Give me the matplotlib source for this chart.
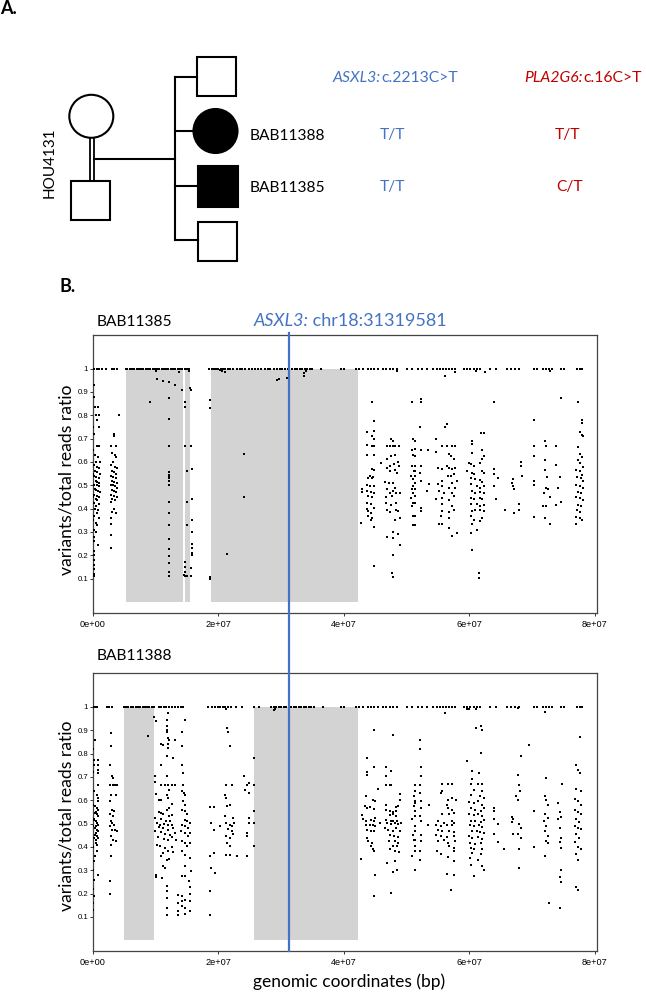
"""
Pedigree of family HOU4131 and B-allele ratio plots along chr18
for BAB11385 and BAB11388.
"""
import matplotlib
matplotlib.use("Agg")
import matplotlib.pyplot as plt
import matplotlib.transforms as mtrans
from matplotlib.lines import Line2D
from matplotlib.patches import Ellipse, Rectangle

BLUE = "#4472C4"
RED = "#C00000"
GRAY = "#D3D3D3"
LABEL_FONT = "Lato"
TICK_FONT = "Liberation Sans"

ASXL3_POS = 31319581
XTICKS = [0, 2e7, 4e7, 6e7, 8e7]
XTICK_LABELS = ["0e+00", "2e+07", "4e+07", "6e+07", "8e+07"]
YTICKS = [0.1, 0.2, 0.3, 0.4, 0.5, 0.6, 0.7, 0.8, 0.9, 1.0]
YTICK_LABELS = ["0.1", "0.2", "0.3", "0.4", "0.5", "0.6", "0.7", "0.8", "0.9", "1"]

# shaded regions (Mb)
bab11385_roh_start = [5.2, 14.7, 18.8]
bab11385_roh_end = [14.3, 15.4, 42.2]
bab11388_roh_start = [5.0, 25.6]
bab11388_roh_end = [9.8, 42.2]

# variant positions (Mb) with ratio == 1
bab11385_hom = [
    0.0, 0.2, 0.6, 0.9, 1.5, 2.1, 3.0, 3.4, 3.8,
    5.2, 5.5, 5.9, 6.2, 6.6, 7.0, 7.3, 7.7, 8.0, 8.4, 8.8, 9.1, 9.5, 9.9,
    10.2, 10.6, 11.0, 11.3, 11.7, 12.0, 12.4, 12.8, 13.1, 13.5, 13.9, 14.2,
    14.6, 15.0, 15.3,
    18.5, 18.9, 19.3, 19.6, 20.0, 20.4, 20.7, 21.1, 21.5, 21.8, 22.3, 22.9,
    23.4, 23.8, 24.3, 24.9, 25.4, 25.8, 26.3, 26.8, 27.4, 27.9, 28.3, 28.8,
    29.3, 29.8, 30.2, 30.6, 31.1, 31.7, 32.2, 32.6, 33.0, 33.4, 33.8, 34.2,
    34.6, 35.0,
    36.4, 39.6, 40.0, 42.0, 42.5, 43.0, 43.8, 44.3, 44.8, 45.4, 46.2, 46.7,
    47.3, 47.9, 48.5, 50.0, 50.8, 51.9, 52.5, 53.2, 54.3, 54.8, 55.3, 55.8,
    56.3, 56.8, 57.3, 57.8, 59.1, 59.6, 60.2, 60.7, 61.2, 61.7, 63.3, 64.2,
    66.1, 66.6, 67.3, 68.0, 70.3, 70.8, 71.8, 72.3, 72.8, 73.2, 74.6, 75.1,
    77.2, 77.6, 78.0,
]
bab11388_hom = [
    0.0, 0.3, 0.6, 2.2, 2.6, 3.0,
    4.9, 5.3, 5.6, 6.0, 6.3, 6.8, 7.2, 7.5, 7.9, 8.3, 8.6, 9.0, 9.4, 9.8,
    10.5, 10.9, 11.3, 11.7, 12.1, 12.6, 13.0, 13.6, 14.0, 14.4,
    18.4, 18.9, 19.4, 19.9, 20.3, 20.7, 21.1, 21.5, 22.0, 22.8, 23.7, 25.7,
    26.4,
    28.4, 28.8, 29.2, 29.6, 30.0, 30.4, 30.8, 31.2, 31.6, 32.0, 32.4, 32.8,
    33.2, 33.6, 34.0, 34.4, 34.8, 35.2,
    36.7, 39.5, 40.0, 42.0, 42.5, 43.0, 43.8, 44.3, 44.8, 45.4, 46.2, 46.7,
    47.3, 47.9, 48.5, 50.0, 50.8, 51.9, 52.5, 53.2, 54.3, 54.8, 55.3, 55.8,
    56.3, 56.8, 57.3, 57.8, 59.1, 59.6, 60.2, 60.7, 61.2, 61.7, 63.3, 64.2,
    66.1, 66.6, 67.3, 68.0, 70.3, 70.8, 71.8, 72.3, 72.8, 73.2, 74.6, 75.1,
    77.2, 77.6, 78.0,
]

# other variants: (position Mb, variant/total reads)
bab11385_pts = [
    (0.1, .93), (0.1, .88), (0.3, .835), (0.8, .835), (0.5, .80), (1.0, .80),
    (0.7, .78), (0.9, .75), (0.2, .72), (0.6, .67), (1.0, .67), (0.3, .63),
    (0.8, .62), (0.4, .60), (1.1, .60), (0.2, .585), (0.6, .58), (0.9, .575),
    (0.3, .56), (0.7, .555), (1.1, .55), (0.2, .54), (0.5, .535), (0.9, .53),
    (0.4, .52), (0.7, .515), (1.0, .51), (0.2, .50), (0.6, .50), (0.9, .495),
    (0.3, .485), (0.5, .48), (0.8, .475), (1.1, .47), (0.2, .46), (0.6, .455),
    (0.9, .45), (0.4, .44), (0.7, .435), (0.2, .425), (1.0, .42), (0.5, .41),
    (0.3, .40), (0.8, .395), (0.6, .38), (0.2, .37), (0.9, .36), (0.4, .34),
    (0.7, .33), (0.1, .31), (0.5, .30), (0.1, .28), (0.8, .245), (0.1, .22),
    (0.1, .20), (0.1, .18), (0.1, .16), (0.1, .14), (0.1, .12), (0.1, .11),
    (0.15, .26), (0.05, .35), (0.05, .45), (0.05, .55), (0.05, .65), (0.05, .75),
    (4.2, .80), (3.3, .72), (3.4, .71), (2.8, .67), (3.6, .67), (3.0, .64),
    (3.5, .63), (3.7, .62), (3.2, .60), (2.9, .585), (3.5, .58), (3.8, .575),
    (3.1, .56), (3.4, .555), (3.7, .55), (2.8, .54), (3.2, .535), (3.6, .53),
    (3.0, .52), (3.4, .515), (3.9, .51), (2.8, .50), (3.2, .50), (3.5, .495),
    (3.8, .49), (3.0, .48), (3.3, .475), (3.6, .47), (2.9, .46), (3.4, .455),
    (3.9, .45), (3.1, .44), (3.5, .435), (2.8, .43), (3.3, .40), (3.0, .385),
    (3.6, .38), (2.8, .36), (2.9, .335), (2.8, .285), (2.8, .23),
    (10.2, .954), (10.0, .99), (11.2, .948), (12.1, .943), (12.1, .873),
    (13.0, .93), (14.2, .91), (9.1, .856), (12.1, .784), (12.1, .667),
    (12.1, .555), (12.1, .545), (12.1, .54), (12.1, .53), (12.1, .52),
    (12.1, .50), (12.1, .43), (12.1, .38), (12.1, .33), (12.1, .27),
    (12.1, .225), (12.1, .195), (12.1, .165), (12.1, .13), (12.1, .11),
    (14.6, .856), (14.6, .835), (14.6, .667), (15.0, .56), (15.0, .43),
    (15.0, .33), (14.6, .17), (14.6, .15), (14.6, .13), (14.6, .11),
    (14.8, .11), (15.0, .11), (14.5, .115),
    (15.7, .91), (15.5, .915), (15.7, .667), (15.8, .57), (15.8, .44),
    (15.8, .35), (15.8, .30), (15.8, .25), (15.8, .23), (15.8, .21),
    (15.8, .20), (15.7, .145), (15.7, .11), (13.7, .985), (15.3, .99),
    (18.6, .866), (18.6, .832), (24.1, .633), (24.1, .449), (21.3, .205),
    (18.6, .108), (18.6, .10), (20.5, .99), (21.0, .985), (29.4, .95),
    (29.6, .955), (31.0, .96), (33.6, .97), (33.6, .98), (34.0, .99), (20.2, .995),
    (44.45, .856), (44.8, .777), (43.65, .73), (44.8, .734), (44.45, .712),
    (44.8, .70), (43.65, .672), (44.45, .667), (44.8, .667), (43.65, .63),
    (44.8, .63), (44.45, .57), (44.8, .566), (44.2, .54), (44.7, .537),
    (43.9, .533), (44.45, .53), (43.65, .50), (44.2, .495), (44.8, .497),
    (42.85, .483), (43.65, .475), (44.3, .47), (44.8, .468), (42.85, .47),
    (43.9, .455), (44.45, .448), (43.65, .425), (44.35, .418), (43.65, .397),
    (43.9, .39), (44.3, .383), (44.8, .404), (43.9, .368), (44.45, .36),
    (44.35, .353), (42.7, .34), (44.8, .322), (44.8, .152),
    (45.9, .595), (46.9, .575), (47.5, .70), (47.8, .69), (46.9, .667),
    (47.4, .667), (47.8, .667), (48.2, .667), (48.85, .667), (47.5, .627),
    (48.2, .63), (46.9, .612), (48.7, .60), (47.3, .583), (48.0, .59),
    (48.85, .583), (47.4, .561), (48.2, .565), (48.5, .551), (46.6, .514),
    (47.2, .51), (47.9, .511), (48.2, .49), (46.9, .483), (47.8, .475),
    (47.3, .468), (48.3, .465), (48.96, .468), (46.7, .45), (47.7, .454),
    (46.8, .425), (47.5, .414), (48.4, .425), (46.9, .396), (48.3, .393),
    (48.7, .389), (47.4, .385), (48.2, .353), (48.96, .36), (47.8, .30),
    (46.9, .277), (47.9, .274), (48.7, .29), (48.96, .245), (47.8, .202),
    (47.7, .123), (47.8, .106),
    (50.8, .856), (51.1, .70), (50.8, .65), (51.1, .63), (50.8, .584),
    (51.2, .561), (50.7, .54), (51.1, .526), (51.1, .497), (50.8, .483),
    (51.1, .469), (50.7, .447), (51.1, .425), (50.8, .41), (51.1, .37),
    (51.1, .33), (52.3, .87), (52.3, .856), (52.15, .75), (51.4, .69),
    (51.4, .655), (51.4, .625), (51.4, .582), (51.4, .56), (51.4, .54),
    (51.4, .51), (51.4, .482), (51.4, .455), (51.4, .425), (51.4, .37),
    (51.4, .33), (52.3, .65), (52.3, .582), (52.15, .554), (52.3, .518),
    (52.3, .404), (52.3, .39), (53.5, .65), (53.6, .504), (53.2, .475),
    (54.65, .698), (56.1, .748), (56.4, .763), (55.7, .667), (56.4, .667),
    (57.2, .667), (57.7, .667), (54.65, .641), (56.7, .633), (57.1, .626),
    (57.6, .612), (56.4, .583), (56.7, .576), (55.6, .569), (54.97, .572),
    (57.3, .569), (57.7, .576), (56.6, .54), (57.1, .54), (57.6, .547),
    (55.7, .518), (57.3, .511), (58.0, .518), (54.97, .504), (55.6, .497),
    (56.7, .49), (57.7, .49), (55.2, .475), (56.0, .468), (57.2, .468),
    (54.65, .44), (55.6, .447), (56.7, .437), (57.5, .454), (55.7, .418),
    (57.2, .411), (55.6, .389), (56.7, .385), (57.6, .393), (55.5, .368),
    (56.7, .36), (55.2, .332), (55.7, .332), (56.7, .317), (58.0, .296),
    (57.2, .281),
    (60.4, .69), (60.4, .676), (61.9, .725), (62.3, .725), (60.4, .64),
    (62.0, .652), (62.3, .626), (59.9, .597), (60.3, .59), (60.7, .583),
    (61.7, .597), (62.0, .612), (59.7, .561), (60.4, .554), (60.8, .547),
    (62.0, .561), (62.3, .554), (60.3, .533), (60.9, .526), (61.7, .523),
    (62.0, .514), (60.3, .504), (61.2, .497), (61.7, .49), (62.3, .497),
    (60.4, .475), (60.9, .468), (61.7, .471), (62.3, .468), (60.3, .447),
    (60.8, .44), (61.7, .447), (62.1, .44), (60.3, .418), (61.2, .418),
    (61.7, .411), (62.3, .414), (60.5, .389), (61.0, .396), (61.7, .396),
    (62.3, .389), (60.3, .368), (60.7, .353), (62.0, .36), (60.4, .332),
    (61.7, .346), (60.3, .296), (61.2, .31), (60.5, .224), (61.6, .126),
    (61.6, .102),
    (63.9, .856), (63.9, .569), (63.9, .547), (64.6, .533), (63.9, .497),
    (64.2, .443),
    (68.3, .60), (68.3, .583), (68.4, .54), (67.0, .526), (66.9, .511),
    (67.0, .497), (67.1, .486), (67.9, .418), (67.9, .396), (65.7, .396),
    (67.1, .382),
    (70.4, .78), (70.4, .667), (70.4, .626), (70.4, .52), (70.4, .50),
    (70.4, .363), (72.1, .69), (72.3, .67), (72.1, .61), (72.1, .565),
    (72.4, .535), (72.3, .49), (72.6, .486), (72.0, .465), (72.9, .45),
    (71.7, .41), (72.3, .41), (72.1, .36), (72.9, .335), (73.9, .667),
    (73.9, .585), (74.5, .535), (74.2, .49), (73.9, .415), (74.6, .43),
    (74.7, .876),
    (77.4, .857), (78.0, .78), (78.0, .765), (77.6, .73), (78.0, .715),
    (78.2, .71), (77.4, .665), (77.7, .635), (78.0, .62), (77.4, .61),
    (77.7, .595), (78.2, .58), (77.1, .565), (77.7, .56), (78.0, .545),
    (77.2, .535), (77.8, .53), (78.2, .52), (77.1, .50), (77.7, .495),
    (78.2, .49), (77.4, .47), (77.9, .465), (77.1, .45), (77.6, .445),
    (78.1, .435), (77.4, .415), (77.8, .41), (77.2, .395), (77.7, .385),
    (77.1, .365), (77.6, .36), (78.0, .35), (77.1, .335),
    (56.2, .97), (57.8, .985), (61.1, .99), (72.9, .99), (48.5, .99),
    (62.5, .985),
]

bab11388_pts = [
    (0.3, .86), (0.2, .774), (0.75, .774), (0.2, .753), (0.75, .753),
    (0.75, .731), (0.75, .717), (0.75, .667), (0.6, .624), (0.75, .61),
    (0.75, .596), (0.3, .574), (0.6, .567), (0.75, .56), (0.3, .546),
    (0.6, .539), (0.75, .531), (0.2, .517), (0.4, .51), (0.65, .503),
    (0.85, .496), (0.3, .481), (0.6, .474), (0.75, .467), (0.3, .453),
    (0.6, .446), (0.75, .439), (0.4, .417), (0.65, .41), (0.6, .381),
    (0.3, .36), (0.75, .281),
    (0.05, .82), (0.05, .72), (0.1, .64), (0.05, .58), (0.1, .52), (0.05, .49),
    (0.1, .44), (0.05, .40), (0.1, .34), (0.05, .30), (0.1, .26), (0.05, .22),
    (0.1, .19), (0.05, .16), (0.05, .13), (0.45, .55), (0.5, .49), (0.45, .46),
    (0.55, .43),
    (2.9, .889), (2.9, .831), (2.7, .75), (3.1, .703), (3.25, .696),
    (2.7, .667), (3.25, .667), (3.5, .667), (3.8, .667), (2.9, .624),
    (3.6, .624), (2.7, .596), (3.0, .56), (3.4, .553), (2.7, .539),
    (3.25, .531), (2.9, .51), (3.1, .503), (3.4, .496), (2.7, .489),
    (3.0, .474), (3.5, .474), (3.8, .467), (2.9, .446), (3.25, .431),
    (3.6, .424), (2.9, .41), (2.9, .36), (2.7, .253), (2.7, .199),
    (8.8, .875),
    (9.8, .956), (10.0, .941), (10.85, .839), (11.1, .836), (11.75, .946),
    (12.0, .974), (11.75, .917), (11.75, .903), (11.75, .893), (11.9, .867),
    (11.9, .839), (11.9, .824), (12.2, .86), (11.75, .791), (12.8, .781),
    (13.0, .86), (10.85, .753), (11.75, .703), (9.9, .703), (9.9, .679),
    (10.85, .667), (11.5, .667), (11.9, .667), (12.55, .667), (13.0, .667),
    (12.1, .646), (10.0, .627), (10.5, .599), (10.85, .599), (11.75, .621),
    (11.9, .61), (12.66, .584), (12.1, .567), (11.75, .56), (10.5, .55),
    (10.85, .546), (11.2, .541), (12.1, .531), (12.66, .536), (9.9, .524),
    (10.85, .521), (11.6, .513), (12.3, .51), (10.2, .503), (10.7, .496),
    (11.4, .499), (11.9, .493), (12.66, .496), (10.5, .484), (11.1, .479),
    (12.0, .474), (12.8, .481), (9.9, .467), (10.85, .464), (11.5, .456),
    (12.35, .453), (13.0, .46), (10.4, .441), (11.4, .436), (11.9, .43),
    (12.66, .441), (13.2, .431), (10.2, .41), (10.7, .403), (11.5, .396),
    (12.55, .399), (11.1, .374), (11.9, .381), (12.8, .379), (10.85, .36),
    (11.75, .346), (12.1, .35), (11.1, .317), (11.5, .31), (10.0, .281),
    (10.0, .27), (10.95, .267), (11.75, .231), (11.75, .21), (11.75, .179),
    (11.75, .139), (11.75, .11),
    (14.6, .946), (14.25, .893), (14.25, .831), (14.25, .753), (14.4, .717),
    (14.4, .667), (14.25, .639), (14.45, .631), (14.7, .624), (14.4, .596),
    (14.7, .581), (14.25, .56), (14.7, .553), (14.95, .539), (14.7, .517),
    (15.0, .51), (14.15, .496), (14.7, .489), (15.1, .481), (15.5, .503),
    (14.0, .467), (14.7, .46), (15.5, .46), (15.1, .446), (14.25, .424),
    (14.7, .417), (15.5, .417), (14.95, .403), (14.25, .381), (14.7, .367),
    (15.5, .353), (14.6, .317), (15.6, .296), (14.25, .274), (14.7, .274),
    (15.3, .253), (15.5, .227), (14.25, .189), (14.25, .167), (14.25, .146),
    (14.7, .174), (14.7, .139), (14.7, .113), (15.5, .199), (15.5, .167),
    (15.5, .124), (13.6, .193), (13.6, .16), (13.6, .124), (13.6, .107),
    (18.7, .571), (19.3, .571), (18.8, .503), (19.3, .474), (18.7, .36),
    (19.3, .374), (18.8, .31), (19.5, .289), (18.7, .21), (18.7, .107),
    (20.2, .489), (21.1, .624), (21.2, .61), (21.2, .667), (22.1, .667),
    (21.3, .574), (21.8, .581), (21.1, .534), (22.3, .524), (21.2, .503),
    (21.9, .496), (22.1, .489), (22.5, .503), (21.6, .477), (22.1, .467),
    (22.4, .457), (21.2, .446), (21.9, .439), (21.3, .417), (21.9, .403),
    (21.2, .367), (21.9, .364), (22.9, .363), (21.4, .91), (21.6, .891),
    (21.9, .834), (24.1, .703), (24.5, .667), (24.8, .674), (24.3, .646),
    (24.8, .631), (24.8, .524), (24.9, .503), (24.5, .46), (24.6, .446),
    (24.5, .363), (25.7, .779), (25.7, .667), (25.7, .553), (25.7, .503),
    (25.7, .403), (29.0, .99), (21.2, .99), (28.9, .985),
    (44.87, .903), (43.65, .781), (43.65, .721), (43.65, .71), (44.8, .741),
    (45.5, .649), (43.54, .617), (44.7, .603), (44.97, .596), (43.4, .574),
    (43.65, .567), (44.2, .57), (44.8, .564), (42.85, .536), (43.1, .521),
    (43.54, .513), (44.3, .517), (44.8, .51), (44.97, .524), (43.54, .496),
    (44.2, .493), (44.7, .496), (45.0, .489), (45.8, .503), (43.65, .474),
    (44.3, .467), (44.8, .47), (43.65, .439), (43.9, .424), (44.45, .417),
    (44.3, .403), (44.6, .389), (44.8, .381), (42.74, .35), (44.97, .281),
    (44.87, .189),
    (47.8, .879), (46.73, .741), (47.47, .727), (46.73, .703), (46.73, .667),
    (47.37, .667), (47.6, .667), (48.96, .627), (48.96, .599), (48.4, .57),
    (48.7, .574), (46.73, .581), (46.73, .56), (47.37, .556), (47.9, .55),
    (48.4, .553), (47.37, .536), (47.8, .539), (48.4, .531), (46.8, .517),
    (47.47, .513), (47.9, .51), (48.5, .513), (46.94, .503), (47.47, .499),
    (48.2, .503), (48.7, .499), (49.07, .503), (46.6, .479), (47.1, .474),
    (47.9, .47), (48.4, .479), (48.96, .467), (47.37, .453), (48.0, .446),
    (48.7, .441), (47.26, .427), (48.2, .424), (48.7, .417), (47.8, .403),
    (48.5, .403), (47.37, .389), (48.2, .381), (48.85, .379), (46.94, .331),
    (48.2, .339), (48.5, .303), (47.8, .293), (47.6, .203),
    (51.35, .667), (51.35, .639), (51.2, .617), (51.35, .596), (51.2, .574),
    (51.35, .553), (51.35, .531), (50.95, .52), (51.35, .467), (51.05, .453),
    (51.2, .431), (51.35, .403), (51.35, .381), (50.8, .36), (51.35, .303),
    (52.15, .86), (52.15, .821), (52.3, .741), (52.3, .703), (52.15, .667),
    (52.15, .631), (52.3, .596), (52.3, .567), (52.15, .531), (52.3, .51),
    (52.3, .453), (52.3, .424), (52.15, .381), (52.15, .346), (53.6, .581),
    (53.4, .496), (51.4, .59), (51.4, .49), (51.4, .43),
    (55.7, .67), (56.6, .67), (57.3, .67), (55.7, .639), (55.5, .631),
    (57.3, .61), (56.6, .599), (56.4, .581), (57.85, .599), (56.6, .567),
    (57.3, .56), (55.7, .541), (56.7, .539), (57.6, .546), (55.07, .51),
    (56.0, .503), (57.3, .51), (57.6, .503), (54.65, .493), (55.5, .489),
    (56.4, .493), (57.2, .496), (54.97, .474), (55.6, .467), (56.7, .47),
    (57.5, .464), (54.65, .453), (55.5, .446), (56.5, .441), (57.6, .446),
    (55.07, .424), (56.0, .431), (56.6, .417), (57.7, .427), (56.7, .403),
    (57.5, .396), (54.8, .381), (55.5, .37), (57.6, .381), (56.6, .356),
    (57.6, .339), (56.4, .284), (57.6, .279), (57.1, .217),
    (59.7, .77), (60.4, .727), (61.6, .717), (61.9, .803), (61.8, .917),
    (62.0, .903), (60.5, .693), (60.3, .67), (61.35, .67), (62.0, .67),
    (60.8, .646), (62.0, .639), (60.3, .624), (61.7, .617), (62.3, .61),
    (59.9, .593), (60.7, .589), (61.45, .596), (62.0, .581), (60.3, .567),
    (61.0, .56), (61.9, .556), (62.3, .567), (60.0, .539), (60.7, .536),
    (61.45, .541), (62.0, .531), (60.3, .513), (61.0, .51), (61.9, .507),
    (62.3, .517), (60.1, .496), (60.8, .489), (61.6, .493), (62.1, .484),
    (60.4, .467), (61.2, .47), (61.7, .464), (62.3, .46), (59.9, .446),
    (60.5, .439), (61.45, .441), (62.0, .436), (60.1, .417), (60.9, .413),
    (61.9, .417), (60.3, .396), (60.8, .389), (62.0, .393), (60.4, .374),
    (61.9, .37), (60.1, .353), (61.45, .346), (60.3, .324), (62.0, .317),
    (60.8, .274), (62.3, .303),
    (64.0, .567), (64.0, .553), (64.0, .52), (64.6, .50), (64.0, .455),
    (64.6, .42),
    (65.6, .39), (66.9, .53), (67.0, .52), (66.9, .505), (67.0, .455),
    (67.9, .667), (68.1, .64), (67.8, .60), (67.9, .50), (68.2, .48),
    (67.8, .455), (68.2, .44), (67.9, .39), (67.9, .31), (68.3, .79),
    (69.5, .835), (67.8, .71), (67.5, .62),
    (70.4, .553), (70.4, .40), (72.3, .696), (72.1, .62), (72.3, .60),
    (72.5, .58), (72.1, .54), (72.5, .525), (72.0, .51), (72.3, .49),
    (72.1, .47), (72.5, .445), (72.3, .425), (72.5, .415), (72.1, .36),
    (74.1, .59), (74.4, .55), (74.7, .53), (74.1, .52), (74.4, .48),
    (74.7, .44), (74.4, .42), (74.7, .395), (74.7, .30), (74.4, .27),
    (74.7, .25), (72.8, .16), (74.5, .14), (74.8, .67),
    (77.7, .87), (77.1, .75), (77.4, .73), (77.7, .715), (77.1, .65),
    (77.9, .64), (76.9, .605), (77.4, .595), (77.9, .58), (76.8, .56),
    (77.3, .55), (77.9, .54), (77.0, .52), (77.5, .505), (76.8, .49),
    (77.4, .48), (77.9, .475), (77.1, .455), (77.5, .44), (76.8, .42),
    (77.4, .40), (77.9, .39), (77.0, .37), (77.4, .345), (77.1, .23),
    (77.3, .215),
    (56.2, .975), (59.6, .99), (60.0, .99), (61.1, .99), (61.1, .91),
    (67.8, .995), (72.1, .977),
]


def draw_panel(ax, hom, pts, roh_start, roh_end):
    for s, e in zip(roh_start, roh_end):
        ax.fill_between([s * 1e6, e * 1e6], 0, 1, color=GRAY, lw=0, zorder=1)
    xs, ys = zip(*pts)
    ax.scatter([x * 1e6 for x in xs], ys, s=1.7, marker="s", c="black",
               linewidths=0, zorder=3)
    ax.scatter([x * 1e6 for x in hom], [1.0] * len(hom), s=1.7, marker="s",
               c="black", linewidths=0, zorder=3)
    ax.set_xlim(0, 80.3e6)
    ax.set_ylim(-0.046, 1.144)
    ax.set_xticks(XTICKS)
    ax.set_xticklabels(XTICK_LABELS, fontfamily=TICK_FONT, fontsize=6.6)
    ax.set_yticks(YTICKS)
    ax.set_yticklabels(YTICK_LABELS, fontfamily=TICK_FONT, fontsize=5.6)
    ax.tick_params(axis="x", length=2.5, width=0.7, pad=2.5, color="#333333")
    ax.tick_params(axis="y", length=2.0, width=0.7, pad=1.5, color="#333333")
    for sp in ax.spines.values():
        sp.set_color("#444444")
        sp.set_linewidth(0.9)


def mixed_text(ax, renderer, x, y, parts, color, size):
    for txt, style in parts:
        t = ax.text(x, y, txt, color=color, fontsize=size, family=LABEL_FONT,
                    style=style, ha="left", va="center")
        x = t.get_window_extent(renderer).x1


fig = plt.figure(figsize=(6.46, 9.92), dpi=100)
ax0 = fig.add_axes([0, 0, 1, 1])
ax0.set_xlim(0, 646)
ax0.set_ylim(992, 0)
ax0.axis("off")

# --- pedigree (pixel coords) ---
lw = 1.5
ax0.add_patch(Ellipse((91.3, 116.3), 44, 43, fill=False, lw=lw, ec="black"))
ax0.plot([89.6, 89.6], [137.8, 181], color="black", lw=1.3)
ax0.plot([94.0, 94.0], [137.8, 181], color="black", lw=1.3)
ax0.add_patch(Rectangle((71, 181), 39, 39, fill=False, lw=lw, ec="black"))
ax0.plot([94, 175], [159, 159], color="black", lw=lw)
ax0.plot([175, 175], [76.5, 240], color="black", lw=lw)
for yy, xe in [(76.5, 197), (131, 193.5), (186, 197), (240, 198)]:
    ax0.plot([175, xe], [yy, yy], color="black", lw=lw)
ax0.add_patch(Rectangle((197, 56.5), 39, 39, fill=False, lw=lw, ec="black"))
ax0.add_patch(Ellipse((215.5, 131), 44, 44, fc="black", ec="black", lw=lw))
ax0.add_patch(Rectangle((197.5, 166), 40, 40.5, fc="black", ec="black", lw=lw))
ax0.add_patch(Rectangle((198, 221.5), 39, 39, fill=False, lw=lw, ec="black"))

ax0.text(49.5, 163, "HOU4131", rotation=90, ha="center", va="center",
         fontsize=11, family=LABEL_FONT)
ax0.text(249.5, 136, "BAB11388", ha="left", va="center", fontsize=11.2,
         family=LABEL_FONT)
ax0.text(249.5, 187.5, "BAB11385", ha="left", va="center", fontsize=11.2,
         family=LABEL_FONT)

renderer = fig.canvas.get_renderer()
mixed_text(ax0, renderer, 333, 77.5,
           [("ASXL3:", "italic"), ("c.2213C>T", "normal")], BLUE, 11.3)
mixed_text(ax0, renderer, 524.5, 77.5,
           [("PLA2G6:", "italic"), ("c.16C>T", "normal")], RED, 11.3)
for yy in [135.5, 187]:
    ax0.text(393, yy, "T/T", color=BLUE, ha="center", va="center",
             fontsize=11.2, family=LABEL_FONT)
ax0.text(567.5, 135.5, "T/T", color=RED, ha="center", va="center",
         fontsize=11.2, family=LABEL_FONT)
ax0.text(569.5, 187, "C/T", color=RED, ha="center", va="center",
         fontsize=11.2, family=LABEL_FONT)

ax0.text(0, 9, "A.", fontsize=13, fontweight="bold", family=LABEL_FONT,
         ha="left", va="center")
ax0.text(59.5, 287, "B.", fontsize=13, fontweight="bold", family=LABEL_FONT,
         ha="left", va="center")

# --- panel B ---
ax_top = fig.add_axes([93 / 646, 1 - 612.7 / 992, 503.5 / 646, 277.7 / 992])
ax_bot = fig.add_axes([93 / 646, 1 - 951 / 992, 503.5 / 646, 277.7 / 992])
draw_panel(ax_top, bab11385_hom, bab11385_pts,
           bab11385_roh_start, bab11385_roh_end)
draw_panel(ax_bot, bab11388_hom, bab11388_pts,
           bab11388_roh_start, bab11388_roh_end)

ax0.text(97, 321.5, "BAB11385", ha="left", va="center", fontsize=11.2,
         family=LABEL_FONT)
ax0.text(97, 656, "BAB11388", ha="left", va="center", fontsize=11.2,
         family=LABEL_FONT)
mixed_text(ax0, renderer, 253.5, 320.5,
           [("ASXL3:", "italic"), (" chr18:31319581", "normal")], BLUE, 13)
for yc in [480, 816]:
    ax0.text(66, yc, "variants/total reads ratio", rotation=90, ha="center",
             va="center", fontsize=12.6, family=LABEL_FONT)
ax0.text(349, 982, "genomic coordinates (bp)", ha="center", va="center",
         fontsize=12.5, family=LABEL_FONT)

# ASXL3 position line across both panels
trans = mtrans.blended_transform_factory(ax_top.transData, fig.transFigure)
fig.add_artist(Line2D([ASXL3_POS, ASXL3_POS], [1 - 333 / 992, 1 - 951 / 992],
                      transform=trans, color=BLUE, lw=1.6, zorder=5))

fig.savefig("out.png", dpi=100)
